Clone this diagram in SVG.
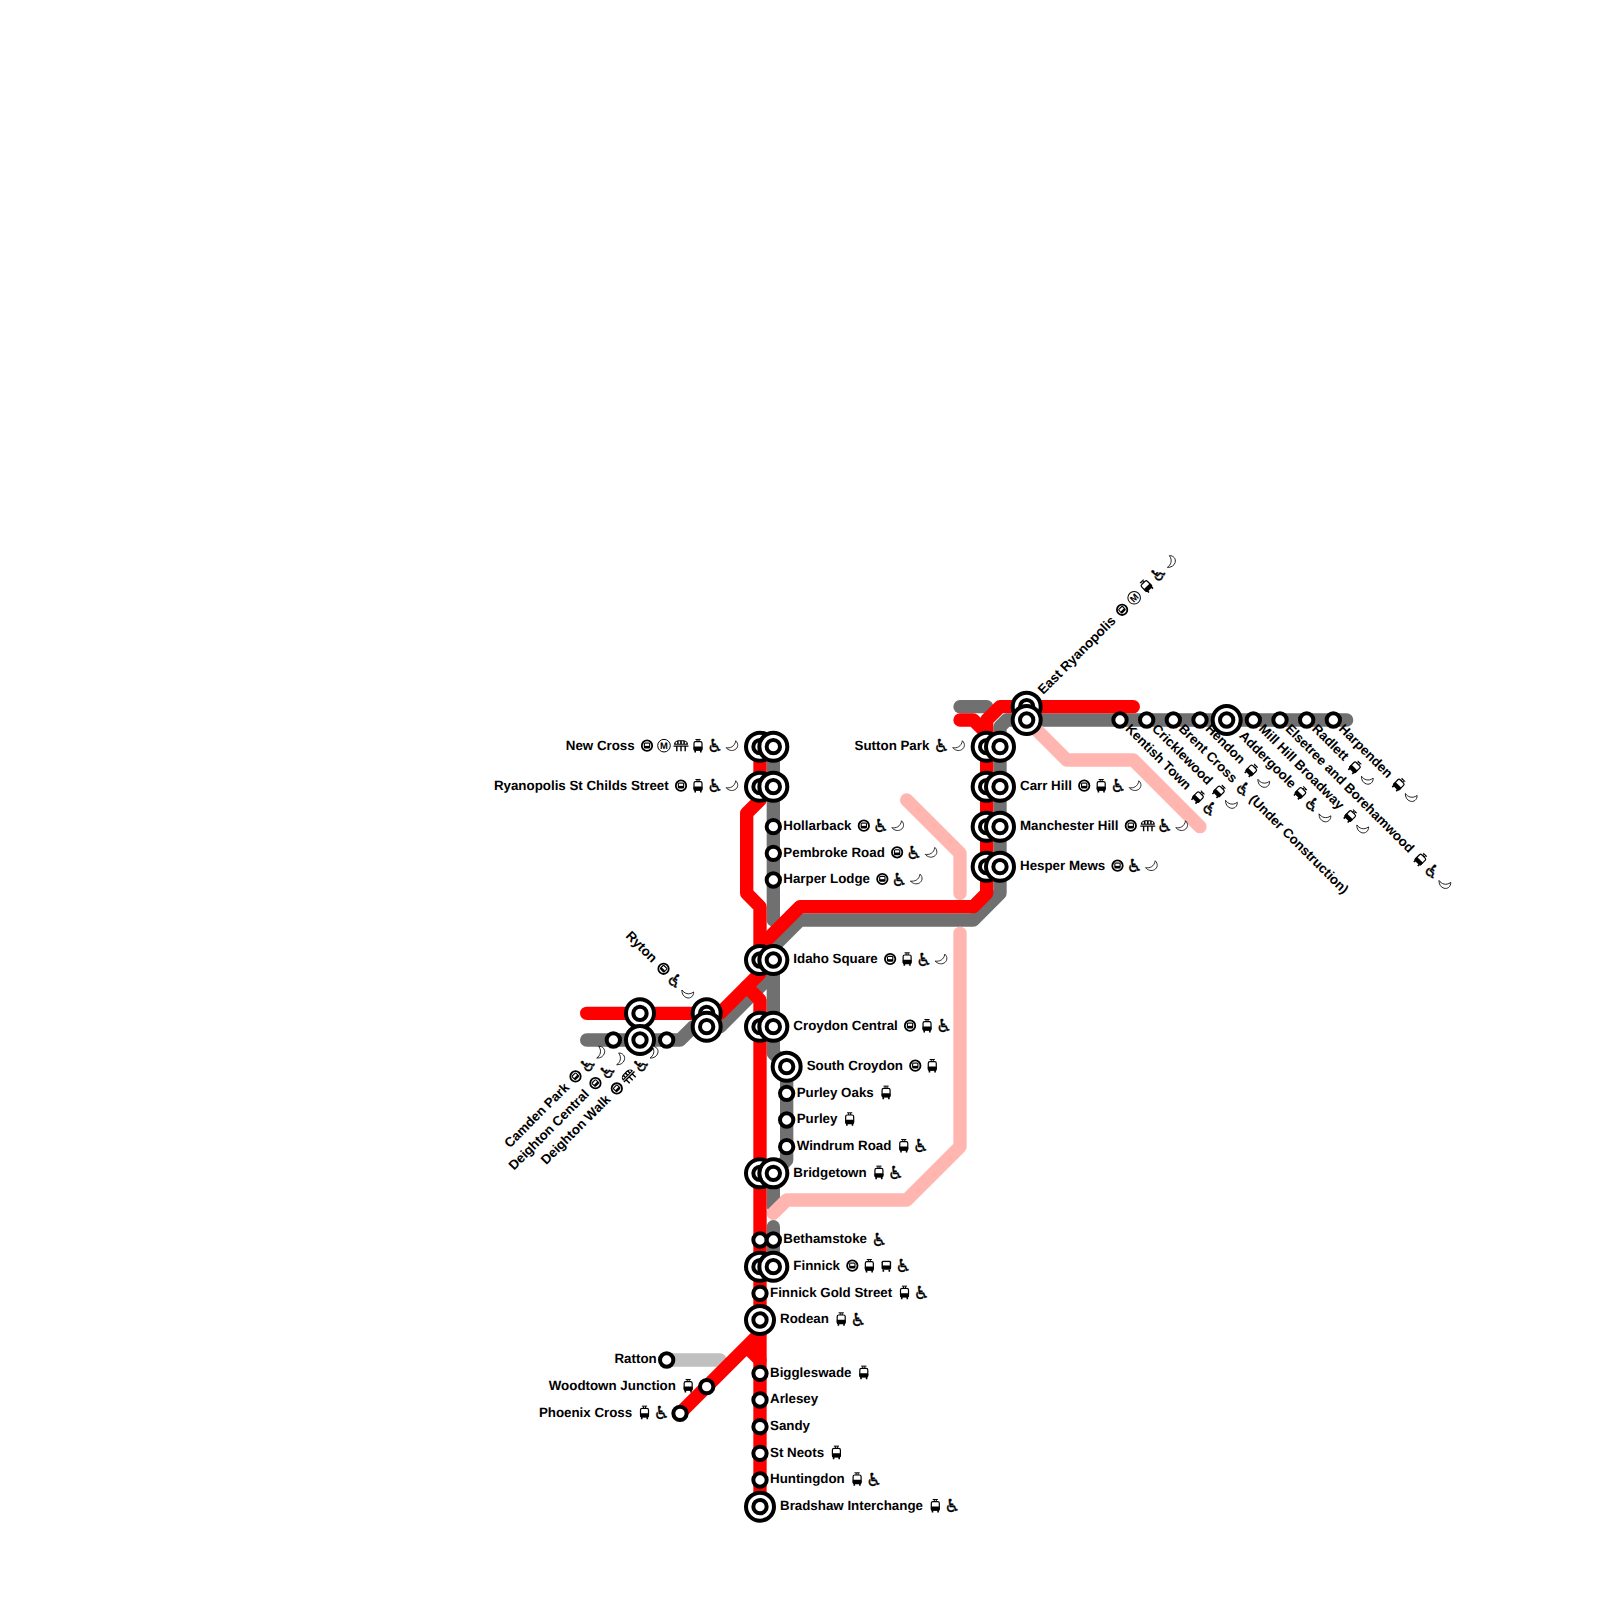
<svg xmlns="http://www.w3.org/2000/svg" width="1600" height="1600" viewBox="0 0 1600 1600">
<style>
text{font-family:"Liberation Sans",Arial,sans-serif;font-size:13.33px;font-weight:bold;fill:#000;text-rendering:geometricPrecision}
.e{text-anchor:end}
.wc{font-family:"DejaVu Sans",sans-serif;font-weight:bold;text-anchor:middle;font-size:18px;stroke:#000;stroke-width:.3}
.mt{font-size:9.4px;text-anchor:middle}
.ln{fill:none;stroke-width:13.33;stroke-linecap:round;stroke-linejoin:round}
.r{stroke:#ff0000}.g{stroke:#707070}.p{stroke:#ffb6b1}.s{stroke:#c0c0c0}
.st{fill:#fff;stroke:#000;stroke-width:4}
</style>
<defs>
<circle id="small" class="st" r="6.67"/>
<g id="big"><circle class="st" r="14"/><circle class="st" r="6.67"/></g>
<g id="metro"><circle r="5.2" fill="#fff" stroke="#000" stroke-width="1.8"/><rect x="-3.2" y="-3.2" width="6.4" height="6" rx="1.5" fill="#000"/><rect x="-2.1" y="-2" width="4.2" height="2.2" fill="#fff"/></g>
<g id="mm"><circle r="6.3" fill="#fff" stroke="#000" stroke-width="1"/><text class="mt" y="3.4">M</text></g>
<g id="mono"><path d="M-7-1C-7-4.5-4-5.5-2-5.5H2C4-5.5 7-4.5 7-1Z" fill="#000"/><path d="M-4.6-2V-3.8M-1.6-2V-4.4M1.6-2V-4.4M4.6-2V-3.8" stroke="#fff" stroke-width="1.5"/><path d="M-7.5 .5H7.5M-4.2 0V5.5M0 0V5.5M4.2 0V5.5" stroke="#000" stroke-width="1.4" fill="none"/></g>
<g id="tram"><path d="M-2.6-6.2H2.6M-1-6V-4M1-6V-4" stroke="#000" stroke-width="1" fill="none"/><rect x="-4" y="-4" width="8" height="8.6" rx="1.6" fill="#fff" stroke="#000" stroke-width="1.2"/><rect x="-4.4" y=".8" width="8.8" height="4" rx="1" fill="#000"/><path d="M-2.8 4V6.8M2.8 4V6.8" stroke="#000" stroke-width="1.6"/></g>
<g id="bus"><rect x="-4.8" y="-5" width="9.6" height="9" rx="1.6" fill="#000"/><rect x="-3.4" y="-3.6" width="6.8" height="3.4" fill="#fff"/><path d="M-3 4V6M3 4V6" stroke="#000" stroke-width="1.6"/></g>
<text id="wc" class="wc" y="6.5">♿</text>
<path id="moon" d="M3.7-4.9C6.8-2 6.2 2.2 3 4 0 5.7-3.7 4.7-6 2-2 2.8 2.8 1 3.7-4.9Z" fill="#fff" stroke="#000" stroke-width=".8"/>
</defs>
<rect width="1600" height="1600" fill="#fff"/>
<g id="connectors">
<path class="ln g" d="M773.33 746.67V920"/>
<path class="ln g" d="M960 706.67H986.67"/>
<path class="ln g" d="M1346.67 720H1006.67L1000 726.67V893.33L973.33 920H800L773.33 946.67V1053.33L786.67 1066.67V1160L773.33 1173.33V1206"/>
<path class="ln g" d="M773.33 1226.67V1266.67"/>
<path class="ln g" d="M586.67 1040H680L693.33 1026.67H720L773.33 973.33"/>
<path class="ln s" d="M666.67 1360H720"/>
<path class="ln p" d="M1026.67 720L1066.67 760H1133.33L1200 826.67"/>
<path class="ln p" d="M906.67 800L960 853.33V893.33"/>
<path class="ln p" d="M960 933.33V1146.67L906.67 1200H786.67L773.33 1213.33"/>
<path class="ln r" d="M760 746.67V800L746.67 813.33V893.33L760 906.67V960"/>
<path class="ln r" d="M960 720H973.33L986.67 733.33V893.33L973.33 906.67H800L760 946.67V973.33L720 1013.33H586.67"/>
<path class="ln r" d="M986.67 733.33V720L1000 706.67H1133.33"/>
<path class="ln r" d="M746.67 986.67L760 1000V1506.67"/>
<path class="ln r" d="M680 1413.33L760 1333.33V1320M746.67 1346.67L760 1360"/>
</g>
<g id="new-cross" transform="translate(760 746.67)"><use href="#big"/><use href="#big" x="13.33"/><text class="e" x="-125.3" y="3.4">New Cross</text><use href="#metro" x="-113" y="-1"/><use href="#mm" x="-96" y="-1"/><use href="#mono" x="-79" y="-1"/><use href="#tram" x="-62" y="-1"/><use href="#wc" x="-45" y="-1"/><use href="#moon" x="-28" y="-1"/></g>
<g id="ryanopolis-st-childs-street" transform="translate(760 786.67)"><use href="#big"/><use href="#big" x="13.33"/><text class="e" x="-91.3" y="3.4">Ryanopolis St Childs Street</text><use href="#metro" x="-79" y="-1"/><use href="#tram" x="-62" y="-1"/><use href="#wc" x="-45" y="-1"/><use href="#moon" x="-28" y="-1"/></g>
<g id="hollarback" transform="translate(773.33 826.67)"><use href="#small"/><text x="10" y="3.4">Hollarback</text><use href="#metro" x="90.5" y="-1"/><use href="#wc" x="107.5" y="-1"/><use href="#moon" x="124.5" y="-1"/></g>
<g id="pembroke-road" transform="translate(773.33 853.33)"><use href="#small"/><text x="10" y="3.4">Pembroke Road</text><use href="#metro" x="123.8" y="-1"/><use href="#wc" x="140.8" y="-1"/><use href="#moon" x="157.8" y="-1"/></g>
<g id="harper-lodge" transform="translate(773.33 880)"><use href="#small"/><text x="10" y="3.4">Harper Lodge</text><use href="#metro" x="109" y="-1"/><use href="#wc" x="126" y="-1"/><use href="#moon" x="143" y="-1"/></g>
<g id="idaho-square" transform="translate(760 960)"><use href="#big"/><use href="#big" x="13.33"/><g transform="translate(13.33)"><text x="20" y="3.4">Idaho Square</text><use href="#metro" x="116.8" y="-1"/><use href="#tram" x="133.8" y="-1"/><use href="#wc" x="150.8" y="-1"/><use href="#moon" x="167.8" y="-1"/></g></g>
<g id="croydon-central" transform="translate(760 1026.67)"><use href="#big"/><use href="#big" x="13.33"/><g transform="translate(13.33)"><text x="20" y="3.4">Croydon Central</text><use href="#metro" x="136.7" y="-1"/><use href="#tram" x="153.7" y="-1"/><use href="#wc" x="170.7" y="-1"/></g></g>
<g id="south-croydon" transform="translate(786.67 1066.67)"><use href="#big"/><text x="20" y="3.4">South Croydon</text><use href="#metro" x="128.6" y="-1"/><use href="#tram" x="145.6" y="-1"/></g>
<g id="purley-oaks" transform="translate(786.67 1093.33)"><use href="#small"/><text x="10" y="3.4">Purley Oaks</text><use href="#tram" x="99.4" y="-1"/></g>
<g id="purley" transform="translate(786.67 1120)"><use href="#small"/><text x="10" y="3.4">Purley</text><use href="#tram" x="63" y="-1"/></g>
<g id="windrum-road" transform="translate(786.67 1146.67)"><use href="#small"/><text x="10" y="3.4">Windrum Road</text><use href="#tram" x="117.1" y="-1"/><use href="#wc" x="134.1" y="-1"/></g>
<g id="bridgetown" transform="translate(760 1173.33)"><use href="#big"/><use href="#big" x="13.33"/><g transform="translate(13.33)"><text x="20" y="3.4">Bridgetown</text><use href="#tram" x="105.6" y="-1"/><use href="#wc" x="122.6" y="-1"/></g></g>
<g id="bethamstoke" transform="translate(760 1240)"><use href="#small"/><use href="#small" x="13.33"/><g transform="translate(13.33)"><text x="10" y="3.4">Bethamstoke</text><use href="#wc" x="106" y="-1"/></g></g>
<g id="finnick" transform="translate(760 1266.67)"><use href="#big"/><use href="#big" x="13.33"/><g transform="translate(13.33)"><text x="20" y="3.4">Finnick</text><use href="#metro" x="79" y="-1"/><use href="#tram" x="96" y="-1"/><use href="#bus" x="113" y="-1"/><use href="#wc" x="130" y="-1"/></g></g>
<g id="finnick-gold-street" transform="translate(760 1293.33)"><use href="#small"/><text x="10" y="3.4">Finnick Gold Street</text><use href="#tram" x="144.5" y="-1"/><use href="#wc" x="161.5" y="-1"/></g>
<g id="rodean" transform="translate(760 1320)"><use href="#big"/><text x="20" y="3.4">Rodean</text><use href="#tram" x="81.2" y="-1"/><use href="#wc" x="98.2" y="-1"/></g>
<g id="biggleswade" transform="translate(760 1373.33)"><use href="#small"/><text x="10" y="3.4">Biggleswade</text><use href="#tram" x="103.8" y="-1"/></g>
<g id="arlesey" transform="translate(760 1400)"><use href="#small"/><text x="10" y="3.4">Arlesey</text></g>
<g id="sandy" transform="translate(760 1426.67)"><use href="#small"/><text x="10" y="3.4">Sandy</text></g>
<g id="st-neots" transform="translate(760 1453.33)"><use href="#small"/><text x="10" y="3.4">St Neots</text><use href="#tram" x="76.4" y="-1"/></g>
<g id="huntingdon" transform="translate(760 1480)"><use href="#small"/><text x="10" y="3.4">Huntingdon</text><use href="#tram" x="97.1" y="-1"/><use href="#wc" x="114.1" y="-1"/></g>
<g id="bradshaw-interchange" transform="translate(760 1506.67)"><use href="#big"/><text x="20" y="3.4">Bradshaw Interchange</text><use href="#tram" x="175.3" y="-1"/><use href="#wc" x="192.3" y="-1"/></g>
<g id="ratton" transform="translate(666.67 1360)"><use href="#small"/><text class="e" x="-10" y="3.4">Ratton</text></g>
<g id="woodtown-junction" transform="translate(706.67 1386.67)"><use href="#small"/><text class="e" x="-30.8" y="3.4">Woodtown Junction</text><use href="#tram" x="-18.5" y="-1"/></g>
<g id="phoenix-cross" transform="translate(680 1413.33)"><use href="#small"/><text class="e" x="-47.8" y="3.4">Phoenix Cross</text><use href="#tram" x="-35.5" y="-1"/><use href="#wc" x="-18.5" y="-1"/></g>
<g id="ryton" transform="translate(706.67 1013.33)"><use href="#big"/><use href="#big" y="13.33"/><g transform="rotate(45)"><text class="e" x="-74.3" y="3.4">Ryton</text><use href="#metro" x="-62" y="-1"/><use href="#wc" x="-45" y="-1"/><use href="#moon" x="-28" y="-1"/></g></g>
<g id="camden-park" transform="translate(613.33 1040)"><use href="#small"/><g transform="rotate(-45)"><text class="e" x="-64.8" y="3.4">Camden Park</text><use href="#metro" x="-52.5" y="-1"/><use href="#wc" x="-35.5" y="-1"/><use href="#moon" x="-18.5" y="-1"/></g></g>
<g id="deighton-central" transform="translate(640 1040)"><use href="#big" y="-26.67"/><use href="#big"/><g transform="rotate(-45)"><text class="e" x="-74.3" y="3.4">Deighton Central</text><use href="#metro" x="-62" y="-1"/><use href="#wc" x="-45" y="-1"/><use href="#moon" x="-28" y="-1"/></g></g>
<g id="deighton-walk" transform="translate(666.67 1040)"><use href="#small"/><g transform="rotate(-45)"><text class="e" x="-81.8" y="3.4">Deighton Walk</text><use href="#metro" x="-69.5" y="-1"/><use href="#mono" x="-52.5" y="-1"/><use href="#wc" x="-35.5" y="-1"/><use href="#moon" x="-18.5" y="-1"/></g></g>
<g id="sutton-park" transform="translate(986.67 746.67)"><use href="#big"/><use href="#big" x="13.33"/><text class="e" x="-57.3" y="3.4">Sutton Park</text><use href="#wc" x="-45" y="-1"/><use href="#moon" x="-28" y="-1"/></g>
<g id="carr-hill" transform="translate(986.67 786.67)"><use href="#big"/><use href="#big" x="13.33"/><g transform="translate(13.33)"><text x="20" y="3.4">Carr Hill</text><use href="#metro" x="84.2" y="-1"/><use href="#tram" x="101.2" y="-1"/><use href="#wc" x="118.2" y="-1"/><use href="#moon" x="135.2" y="-1"/></g></g>
<g id="manchester-hill" transform="translate(986.67 826.67)"><use href="#big"/><use href="#big" x="13.33"/><g transform="translate(13.33)"><text x="20" y="3.4">Manchester Hill</text><use href="#metro" x="130.8" y="-1"/><use href="#mono" x="147.8" y="-1"/><use href="#wc" x="164.8" y="-1"/><use href="#moon" x="181.8" y="-1"/></g></g>
<g id="hesper-mews" transform="translate(986.67 866.67)"><use href="#big"/><use href="#big" x="13.33"/><g transform="translate(13.33)"><text x="20" y="3.4">Hesper Mews</text><use href="#metro" x="117.5" y="-1"/><use href="#wc" x="134.5" y="-1"/><use href="#moon" x="151.5" y="-1"/></g></g>
<g id="east-ryanopolis" transform="translate(1026.67 706.67)"><use href="#big"/><use href="#big" y="13.33"/><g transform="rotate(-45)"><text x="20" y="3.4">East Ryanopolis</text><use href="#metro" x="136" y="-1"/><use href="#mm" x="153" y="-1"/><use href="#tram" x="170" y="-1"/><use href="#wc" x="187" y="-1"/><use href="#moon" x="204" y="-1"/></g></g>
<g id="kentish-town" transform="translate(1120 720)"><use href="#small"/><g transform="rotate(45)"><text x="10" y="3.4">Kentish Town</text><use href="#tram" x="109.7" y="-1"/><use href="#wc" x="126.7" y="-1"/></g></g>
<g id="cricklewood" transform="translate(1146.67 720)"><use href="#small"/><g transform="rotate(45)"><text x="10" y="3.4">Cricklewood</text><use href="#tram" x="101.6" y="-1"/><use href="#moon" x="118.6" y="-1"/></g></g>
<g id="brent-cross" transform="translate(1173.33 720)"><use href="#small"/><g transform="rotate(45)"><text x="10" y="3.4">Brent Cross</text><use href="#wc" x="98.6" y="-1"/><text x="109.6" y="3.4">(Under Construction)</text></g></g>
<g id="hendon" transform="translate(1200 720)"><use href="#small"/><g transform="rotate(45)"><text x="10" y="3.4">Hendon</text><use href="#tram" x="71.9" y="-1"/><use href="#moon" x="88.9" y="-1"/></g></g>
<g id="addergoole" transform="translate(1226.67 720)"><use href="#big"/><g transform="rotate(45)"><text x="20" y="3.4">Addergoole</text><use href="#tram" x="103.7" y="-1"/><use href="#wc" x="120.7" y="-1"/><use href="#moon" x="137.7" y="-1"/></g></g>
<g id="mill-hill-broadway" transform="translate(1253.33 720)"><use href="#small"/><g transform="rotate(45)"><text x="10" y="3.4">Mill Hill Broadway</text><use href="#tram" x="136.4" y="-1"/><use href="#moon" x="153.4" y="-1"/></g></g>
<g id="elsetree-and-borehamwood" transform="translate(1280 720)"><use href="#small"/><g transform="rotate(45)"><text x="10" y="3.4">Elsetree and Borehamwood</text><use href="#tram" x="197.9" y="-1"/><use href="#wc" x="214.9" y="-1"/><use href="#moon" x="231.9" y="-1"/></g></g>
<g id="radlett" transform="translate(1306.67 720)"><use href="#small"/><g transform="rotate(45)"><text x="10" y="3.4">Radlett</text><use href="#tram" x="67.5" y="-1"/><use href="#moon" x="84.5" y="-1"/></g></g>
<g id="harpenden" transform="translate(1333.33 720)"><use href="#small"/><g transform="rotate(45)"><text x="10" y="3.4">Harpenden</text><use href="#tram" x="91.9" y="-1"/><use href="#moon" x="108.9" y="-1"/></g></g>
</svg>
